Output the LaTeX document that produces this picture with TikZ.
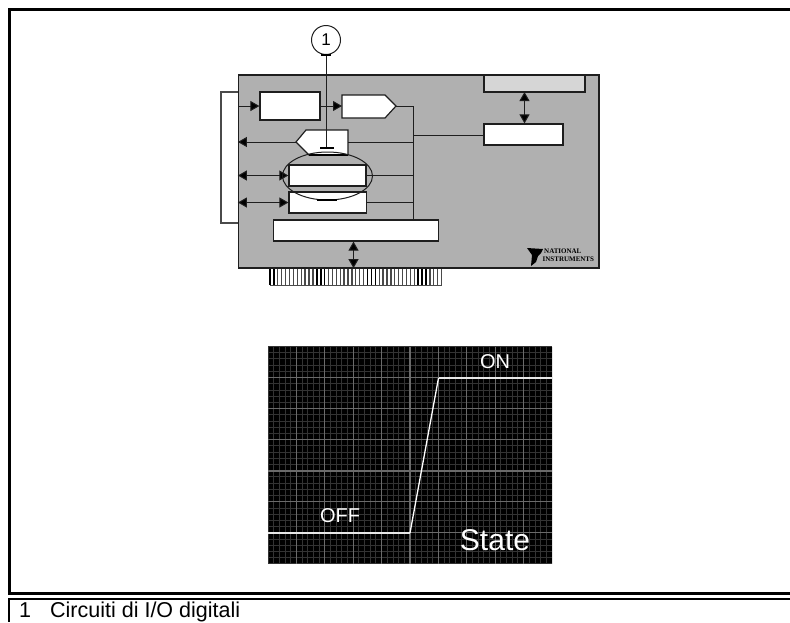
\documentclass[tikz,border=0pt]{standalone}
\usepackage{fontspec}
\setmainfont{Liberation Sans}
\newfontfamily\logofont{Liberation Serif}
\usetikzlibrary{arrows.meta,fit}
\definecolor{boardgray}{HTML}{B0B0B0}
\definecolor{panelgray}{HTML}{D6D6D6}
\definecolor{wire}{HTML}{1E1E1E}
\definecolor{gridminor}{HTML}{333333}
\definecolor{gridmajor}{HTML}{6A6A6A}
\definecolor{tracegray}{HTML}{E8E8E8}
\definecolor{fingergray}{HTML}{4A4A4A}
\tikzset{
  x=1pt,y=-1pt,
  frameline/.style={line width=3pt,black},
  boardbox/.style={fit={#1},inner sep=0pt,draw=wire,line width=1.2pt,fill=boardgray},
  blockbox/.style={fit={#1},inner sep=0pt,draw=wire,line width=1.2pt,fill=white},
  panelbox/.style={fit={#1},inner sep=0pt,draw=wire,line width=1.2pt,fill=panelgray},
  chartbox/.style={fit={#1},inner sep=0pt,fill=black},
  wireline/.style={draw=wire,line width=1pt},
  oneway/.style={wireline,-{Triangle[length=9pt,width=10pt,fill=black]}},
  twoway/.style={wireline,{Triangle[length=9pt,width=10pt,fill=black]}-{Triangle[length=9pt,width=10pt,fill=black]}},
  heavy/.style={black,line width=2pt},
  minorgrid/.style={gridminor,line width=0.9pt},
  majorgrid/.style={gridmajor,line width=1.1pt},
  trace/.style={tracegray,line width=1.1pt},
  charttext/.style={white,inner sep=0pt},
}
\begin{document}
\begin{tikzpicture}
\useasboundingbox (0,0) rectangle (790,622);
\fill[white] (0,0) rectangle (790,622);
% outer frames
\draw[frameline] (790,9.5) -- (9.5,9.5) -- (9.5,593.5) -- (790,593.5);
\draw[frameline,line width=2.4pt] (790,599) -- (9,599) -- (9,622);
\node[anchor=base west,inner sep=0pt,font=\fontsize{21.5}{24}\selectfont] (capnum) at (19,617.4) {1};
\node[anchor=base west,inner sep=0pt,font=\fontsize{21.5}{24}\selectfont] (captext) at (50,617.4) {Circuiti di I/O digitali};

% side bracket
\coordinate (brtop) at (239,92);
\coordinate (brbot) at (239,223);
\draw[draw=fingergray,line width=1.2pt] (brtop) -- (221,92) -- (221,223) -- (brbot);

% edge connector
\foreach \i in {0,...,44}{
  \pgfmathsetmacro{\xx}{270+3.9*\i}
  \pgfmathtruncatemacro{\mm}{mod(\i*\i,13)}
  \ifnum\mm<2
    \draw[black,line width=1.6pt] (\xx,268) -- (\xx,285);
  \else
    \draw[fingergray,line width=1.3pt] (\xx,268) -- (\xx,285);
  \fi
}
\draw[fingergray,line width=1pt] (270,285.5) -- (442,285.5);

% board
\node[boardbox={(238.5,75)(599,267.5)}] (board) {};
\draw[wire,line width=1.6pt] (board.north east) -- (board.south east) -- (board.south west);

% blocks
\node[blockbox={(260,92)(320,120)}] (adc) {};
\node[blockbox={(289,165)(366,186)},line width=1.4pt] (dio) {};
\node[blockbox={(289,192)(366.5,213)}] (tim) {};
\node[blockbox={(273.5,220)(438.5,241)}] (bus) {};
\node[panelbox={(484,75)(585,92)}] (top) {};
\node[blockbox={(484,124)(563,145)}] (ctrl) {};

\coordinate (bin) at (342,106);
\coordinate (btip) at (396,106);
\filldraw[fill=white,draw=wire,line width=1.2pt] (bin) -- (342,95) -- (385,95) -- (btip) -- (385,118) -- (342,118) -- cycle;
\coordinate (ctip) at (296,142);
\coordinate (cright) at (348,142);
\filldraw[fill=white,draw=wire,line width=1.2pt] (ctip) -- (306,130) -- (348,130) -- (cright) -- (348,155) -- (309,155) -- cycle;
\draw[heavy] (309,154.5) -- (348,154.5);

% bus wiring
\coordinate (busv) at (413.5,106);
\coordinate (busj) at (413.5,135);
\coordinate (busb) at (413.5,220);
\draw[wireline] (btip) -- (busv) -- (busb);
\draw[wireline] (busj) -- (ctrl.west |- busj);
\draw[wireline] (cright) -- (cright -| busv);
\draw[wireline] (dio.east) -- (dio.east -| busv);
\draw[wireline] (tim.east) -- (tim.east -| busv);

% arrows
\coordinate (la) at (238.5,106);
\draw[oneway] (la) -- (adc.west |- la);
\draw[oneway] (adc.east |- la) -- (bin);
\draw[oneway] (ctip) -- (ctip -| board.west);
\draw[twoway] (dio.west -| board.west) -- (dio.west);
\draw[twoway] (tim.west -| board.west) -- (tim.west);
\draw[twoway] (bus.south) ++(-2.5,0) coordinate (bs) (bs) -- (bs |- board.south);
\coordinate (gh) at (524.5,92);
\draw[twoway] (gh) -- (gh |- ctrl.north);

% callout
\node[draw=wire,circle,line width=1pt,minimum size=29pt,inner sep=0pt,font=\fontsize{17}{20}\selectfont,fill=white] (call) at (326,40) {1};
\coordinate (callend) at (326.5,148);
\draw[wireline] (call.south -| callend) -- (callend);
\draw[heavy] (call.south) ++(-5,0) -- ++(10,0);
\draw[heavy] (320,148) -- (334,148);

% highlight ellipse
\draw[wire,line width=1pt] (327.5,176) ellipse [x radius=45,y radius=24];
\draw[heavy] (317,199.7) -- (337,199.7);

% logo
\coordinate (logoa) at (527,248);
\fill[black] (logoa) -- (543,249) -- (541,253) -- (538,256) -- (536,262) -- (531,266) -- (532,255) -- cycle;
\node[anchor=west,inner sep=0pt,font=\logofont\bfseries\fontsize{7}{8}\selectfont] (lg1) at (544,251) {NATIONAL};
\node[anchor=west,inner sep=0pt,font=\logofont\bfseries\fontsize{7}{8}\selectfont] (lg2) at (542.5,259) {INSTRUMENTS};

% chart
\node[chartbox={(268,346.5)(552,564)}] (chart) {};
\begin{scope}
\clip (chart.south west) rectangle (chart.north east);
\foreach \i in {0,...,50}{\draw[minorgrid] ({268+5.68*\i},346.5) -- ({268+5.68*\i},564);}
\foreach \i in {0,...,36}{\draw[minorgrid] (268,{346.5+6.21*\i}) -- (552,{346.5+6.21*\i});}
\foreach \i in {1,...,9}{\draw[majorgrid] ({268+28.4*\i},346.5) -- ({268+28.4*\i},564);}
\foreach \i in {1,2,3,5,6}{\draw[majorgrid] (268,{346.5+31.07*\i}) -- (552,{346.5+31.07*\i});}
\draw[gridmajor,line width=2pt] (268,470.5) -- (552,470.5);
\end{scope}
\coordinate (tl) at (268,533);
\coordinate (t1) at (410,533);
\coordinate (t2) at (438.5,378);
\coordinate (tr) at (552,378);
\draw[trace] (tl) -- (t1);
\draw[white,line width=1.3pt] (t1) -- (t2);
\draw[trace] (t2) -- (tr);
\node[charttext,font=\fontsize{20}{24}\selectfont] (on) at (495,362) {ON};
\node[charttext,font=\fontsize{20}{24}\selectfont] (off) at (340,516) {OFF};
\node[charttext,font=\fontsize{30}{34}\selectfont] (state) at (495,540) {State};
\end{tikzpicture}
\end{document}
